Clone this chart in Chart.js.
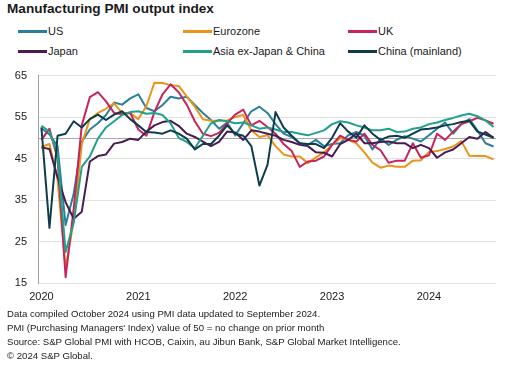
<!DOCTYPE html>
<html>
<head>
<meta charset="utf-8">
<script src="https://cdn.jsdelivr.net/npm/chart.js@4.4.1/dist/chart.umd.min.js"></script>
<style>
    body { margin: 0; background: #fff; font-family: "Liberation Sans", Arial, sans-serif; color: #1a1a1a; }
    #wrap { position: relative; width: 531px; height: 374px; overflow: hidden; }
    #title { position: absolute; left: 7px; top: 1px; font-weight: bold; font-size: 13.6px; line-height: 16px; }
    .leg { position: absolute; font-size: 11px; line-height: 14px; white-space: nowrap; }
    .leg i { display: inline-block; width: 29px; height: 3px; vertical-align: middle; margin-right: 1px; position: relative; top: -1px; }
    #chartBox { position: absolute; left: 0; top: 58px; width: 531px; height: 250px; }
    #notes { position: absolute; left: 7px; top: 307px; font-size: 9.6px; line-height: 14px; white-space: nowrap; }
</style>
</head>
<body>
<div id="wrap">
    <div id="title">Manufacturing PMI output index</div>
    <div id="legend"></div>
    <div id="chartBox"><canvas id="pmiChart" width="531" height="250"></canvas></div>
    <div id="notes">
        Data compiled October 2024 using PMI data updated to September 2024.<br>
        PMI (Purchasing Managers' Index) value of 50 = no change on prior month<br>
        Source: S&amp;P Global PMI with HCOB, Caixin, au Jibun Bank, S&amp;P Global Market Intelligence.<br>
        &copy; 2024 S&amp;P Global.
    </div>
</div>
<script>
// monthly, Jan 2020 .. Sep 2024
var yearLabels = ['2020', '2021', '2022', '2023', '2024'];
var yearStarts = [0, 12, 24, 36, 48];
var yTicks = [15, 25, 35, 45, 55, 65];

var seriesNames = ['US', 'Eurozone', 'UK', 'Japan', 'Asia ex-Japan & China', 'China (mainland)'];
var seriesColors = ['#2a7f9c', '#e8941a', '#c8245c', '#4a1b52', '#22a08a', '#0f3c4c'];

var us = [
    52.3, 50.8, 48.0, 29.0, 36.5, 49.0, 52.0, 53.5, 55.5, 58.5, 58.0, 59.5,
    60.5, 57.2, 56.4, 57.9, 59.9, 59.5, 59.9, 57.9, 56.0, 54.3, 52.2, 53.7,
    50.6, 53.5, 56.4, 57.5, 56.0, 53.3, 51.0, 50.2, 48.7, 48.3, 49.5, 48.0,
    48.5, 48.7, 50.6, 51.4, 50.5, 47.2, 49.8, 48.3, 49.5, 50.4, 49.8, 49.1,
    50.6, 52.2, 53.7, 51.0, 53.3, 54.5, 51.8, 48.7, 47.9
];
var eurozone = [
    47.8, 48.5, 40.0, 18.5, 30.0, 48.5, 54.5, 56.0, 57.0, 58.3, 56.0, 56.0,
    54.5, 57.6, 63.3, 63.2, 62.7, 62.5, 60.0, 57.5, 54.5, 54.1, 54.1, 54.2,
    55.0, 55.5, 51.8, 50.2, 50.6, 48.0, 46.0, 45.5, 45.5, 43.9, 45.3, 46.5,
    48.3, 49.9, 49.5, 48.7, 46.5, 44.0, 42.8, 43.3, 43.0, 43.0, 44.5, 44.6,
    46.6, 46.8, 47.3, 47.9, 49.2, 45.7, 45.6, 45.6, 44.8
];
var uk = [
    49.5, 52.2, 45.0, 16.4, 33.0, 53.0, 59.8, 61.0, 58.8, 56.0, 55.7, 56.0,
    52.0, 50.5, 56.2, 60.5, 62.9, 61.0, 58.0, 54.0, 51.0, 50.4, 51.2, 53.5,
    55.6, 56.8, 53.0, 54.1, 52.6, 51.0, 48.5, 46.8, 43.0, 44.3, 44.5, 45.5,
    48.3, 50.5, 49.5, 49.1, 51.0, 48.3, 47.0, 44.0, 44.5, 44.5, 48.7, 45.2,
    45.8, 51.0, 49.5, 51.5, 53.3, 54.0, 54.8, 54.2, 53.4
];
var japan = [
    47.7, 47.3, 40.5, 34.5, 30.5, 32.2, 44.3, 45.6, 46.0, 48.6, 49.0, 49.8,
    49.5, 51.5, 53.0, 53.8, 54.1, 52.9, 51.0, 50.2, 49.1, 48.0, 49.0, 51.5,
    51.3, 49.5, 51.8, 51.5, 51.0, 50.5, 49.5, 49.0, 48.3, 48.0, 46.5, 46.4,
    45.5, 48.5, 49.5, 51.0, 48.7, 48.7, 49.0, 49.1, 48.7, 48.7, 47.5, 48.3,
    47.5, 45.2, 46.5, 47.2, 48.7, 50.2, 49.8, 51.4, 50.0
];
var asiaExJapanChina = [
    52.9, 51.5, 46.0, 22.5, 29.5, 43.0, 45.5, 49.8, 52.5, 54.0, 55.5, 56.2,
    56.4, 55.8, 56.0, 55.5, 53.5, 50.0, 49.0, 47.5, 50.5, 53.5, 54.3, 54.0,
    53.5, 53.7, 53.0, 52.2, 52.5, 52.0, 51.4, 51.4, 51.0, 50.6, 51.2, 51.8,
    53.3, 54.0, 53.7, 53.0, 52.5, 51.8, 51.8, 52.2, 51.4, 51.5, 52.2, 52.5,
    53.3, 53.7, 54.3, 54.8, 55.4, 55.8, 55.2, 54.2, 52.6
];
var china = [
    52.5, 28.3, 50.5, 51.0, 54.0, 52.5, 54.5, 55.6, 54.3, 55.6, 56.4, 54.5,
    53.0, 51.4, 51.3, 51.0, 51.8, 51.0, 49.8, 47.2, 48.5, 48.5, 50.5, 53.0,
    51.0, 50.5, 48.0, 38.5, 43.5, 56.2, 52.5, 50.5, 48.7, 48.5, 48.5, 47.5,
    50.0, 53.5, 51.5, 50.0, 53.0, 51.0, 49.5, 50.3, 50.5, 50.0, 51.0, 52.0,
    52.2, 52.5, 53.0, 53.3, 53.8, 54.1, 51.5, 50.8, 50.0
];

var seriesValues = [us, eurozone, uk, japan, asiaExJapanChina, china];

// legend, three columns by two rows
var legendBox = document.getElementById('legend');
var legCols = [18, 183, 348];
var legRows = [24, 44];
seriesNames.forEach(function (name, i) {
    var el = document.createElement('div');
    el.className = 'leg';
    el.style.left = legCols[i % 3] + 'px';
    el.style.top = legRows[Math.floor(i / 3)] + 'px';
    el.innerHTML = '<i style="background:' + seriesColors[i] + '"></i>';
    el.appendChild(document.createTextNode(name));
    legendBox.appendChild(el);
});

// darker reference line at 50
var fiftyLine = {
    id: 'fiftyLine',
    beforeDatasetsDraw: function (chart) {
        var a = chart.chartArea;
        var y = Math.round(chart.scales.y.getPixelForValue(50)) + 0.5;
        var ctx = chart.ctx;
        ctx.save();
        ctx.strokeStyle = '#a9a9a9';
        ctx.lineWidth = 1;
        ctx.beginPath();
        ctx.moveTo(a.left, y);
        ctx.lineTo(a.right, y);
        ctx.stroke();
        ctx.restore();
    }
};

var datasets = seriesValues.map(function (vals, i) {
    return {
        label: seriesNames[i],
        data: vals.map(function (v, m) { return { x: m, y: v }; }),
        borderColor: seriesColors[i],
        backgroundColor: seriesColors[i],
        borderWidth: 2,
        pointRadius: 0,
        tension: 0,
        borderJoinStyle: 'round',
        order: seriesValues.length - i
    };
});

var tickFont = { family: '"Liberation Sans", Arial, sans-serif', size: 11 };

new Chart(document.getElementById('pmiChart'), {
    type: 'line',
    data: { datasets: datasets },
    options: {
        responsive: false,
        devicePixelRatio: 1,
        animation: false,
        layout: { padding: { top: 8, right: 35, left: 0, bottom: 0 } },
        plugins: {
            legend: { display: false },
            tooltip: { enabled: false }
        },
        scales: {
            x: {
                type: 'linear',
                min: -0.42,
                max: 56.3,
                grid: { display: false, drawTicks: false },
                border: { display: false },
                afterBuildTicks: function (scale) {
                    scale.ticks = yearStarts.map(function (v) { return { value: v }; });
                },
                afterFit: function (scale) { scale.height = 25; },
                ticks: {
                    autoSkip: false,
                    maxRotation: 0,
                    padding: 7,
                    color: '#1a1a1a',
                    font: tickFont,
                    callback: function (v) { return yearLabels[yearStarts.indexOf(v)]; }
                }
            },
            y: {
                min: 15,
                max: 65,
                afterBuildTicks: function (scale) {
                    scale.ticks = yTicks.map(function (v) { return { value: v }; });
                },
                afterFit: function (scale) { scale.width = 38; },
                grid: { color: '#e2e2e2', lineWidth: 1, drawTicks: false },
                border: { display: true, color: '#a0a0a0', width: 1 },
                ticks: { padding: 11, color: '#1a1a1a', font: tickFont }
            }
        }
    },
    plugins: [fiftyLine]
});
</script>
</body>
</html>
